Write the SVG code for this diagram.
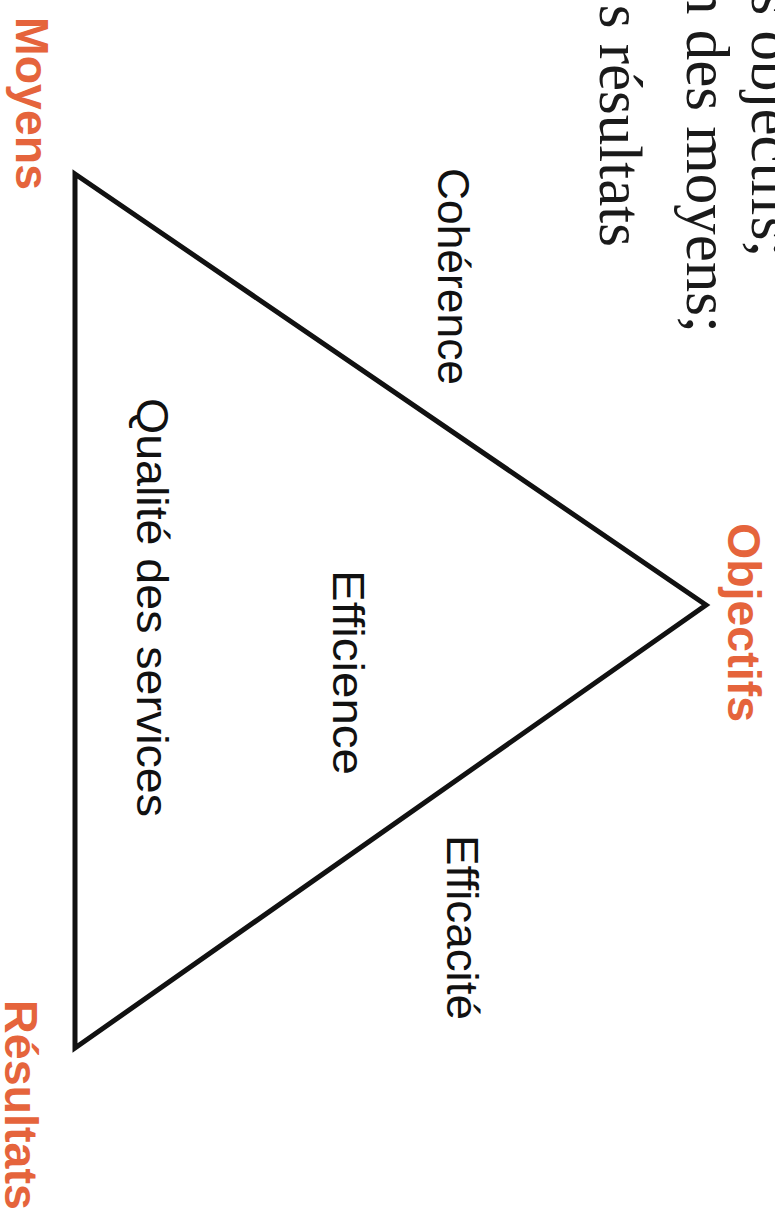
<svg xmlns="http://www.w3.org/2000/svg" width="775" height="1223" viewBox="0 0 775 1223">
  <style>
    .serif { font-family: "Liberation Serif", "Times New Roman", serif; font-size: 61px; fill: #1a1a1a; }
    .corner { font-family: "Liberation Sans", Arial, sans-serif; font-size: 47px; font-weight: bold; fill: #E5643C; }
    .label { font-family: "Liberation Sans", Arial, sans-serif; font-size: 45px; fill: #111111; }
  </style>
  <rect width="775" height="1223" fill="#ffffff"/>

  <g id="intro-text">
    <text class="serif" transform="translate(752,-66) rotate(90)">des objectifs;</text>
    <text class="serif" transform="translate(687,-16) rotate(90)">n des moyens;</text>
    <text class="serif" transform="translate(600,247) rotate(90)" text-anchor="end">s résultats</text>
  </g>

  <g id="connectors">
    <polygon points="75,174 706,605 75,1048" fill="none" stroke="#111111" stroke-width="5" stroke-linejoin="miter"/>
  </g>

  <g id="node-moyens">
    <text class="corner" transform="translate(16,17) rotate(90)" textLength="173" lengthAdjust="spacingAndGlyphs">Moyens</text>
  </g>
  <g id="node-objectifs">
    <text class="corner" transform="translate(728,523) rotate(90)" textLength="199" lengthAdjust="spacingAndGlyphs">Objectifs</text>
  </g>
  <g id="node-resultats">
    <text class="corner" transform="translate(5,1000) rotate(90)" textLength="210" lengthAdjust="spacingAndGlyphs">Résultats</text>
  </g>

  <g id="label-coherence">
    <text class="label" transform="translate(438,168) rotate(90)" textLength="217" lengthAdjust="spacingAndGlyphs">Cohérence</text>
  </g>
  <g id="label-efficacite">
    <text class="label" transform="translate(447,835) rotate(90)" textLength="185" lengthAdjust="spacingAndGlyphs">Efficacité</text>
  </g>
  <g id="label-qualite">
    <text class="label" transform="translate(137,398) rotate(90)" textLength="419" lengthAdjust="spacingAndGlyphs">Qualité des services</text>
  </g>
  <g id="label-efficience">
    <text class="label" transform="translate(333,570) rotate(90)" textLength="205" lengthAdjust="spacingAndGlyphs">Efficience</text>
  </g>
</svg>
